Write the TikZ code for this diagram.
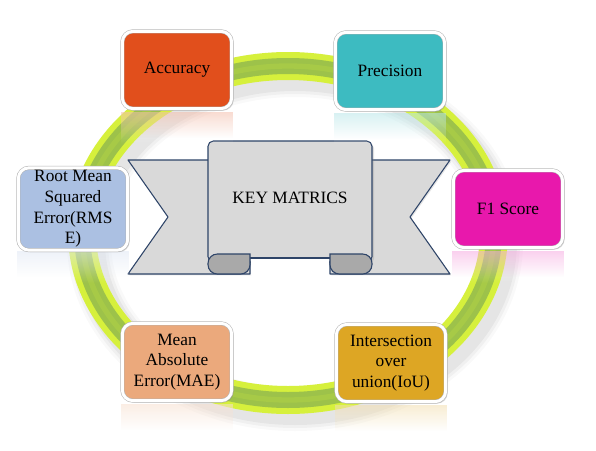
\documentclass[tikz,border=0pt]{standalone}
\usepackage{fontspec}
\setmainfont{Liberation Serif}
\usepackage{tikz}
\usetikzlibrary{shadows,fadings,calc}
\definecolor{ringyellow}{HTML}{D6F03C}
\definecolor{ringgreen}{HTML}{9DC24A}
\definecolor{banneredge}{HTML}{2E4468}
\definecolor{bannerfill}{HTML}{D9D9D9}
\definecolor{curlfill}{HTML}{A9A9A9}
\definecolor{accuracycol}{HTML}{E14F1C}
\definecolor{precisioncol}{HTML}{3DBBC1}
\definecolor{fonecol}{HTML}{E818AC}
\definecolor{rmsecol}{HTML}{ABC0E2}
\definecolor{maecol}{HTML}{EBA97C}
\definecolor{ioucol}{HTML}{DDA624}
\begin{document}
\begin{tikzpicture}[x=0.75pt,y=-0.75pt,
  box/.style={rectangle,rounded corners=8pt,minimum width=82pt,minimum height=58pt,
    inner sep=2pt,fill=#1,draw=black!30,line width=0.4pt,double=white,double distance=2.2pt,
    align=center,font=\rmfamily\fontsize{13}{15.5}\selectfont,
    drop shadow={opacity=0.3,shadow xshift=1.5pt,shadow yshift=-1.5pt}},
  ribbon/.style={fill=bannerfill,draw=banneredge,line width=0.8pt,line join=round},
  curl/.style={fill=curlfill,draw=banneredge,line width=0.8pt}]
\fill[white] (0,0) rectangle (596,450);
\useasboundingbox (0,0) rectangle (596,450);

\foreach \w/\o in {44/0.025,38/0.035,32/0.045}
  \draw[black,opacity=\o,line width=\w*0.75pt] (295,242) ellipse [x radius=206,y radius=167];
\draw[ringyellow,line width=21pt] (288,233) ellipse [x radius=206,y radius=167];
\draw[ringgreen,line width=12pt] (288,233) ellipse [x radius=206,y radius=167];
\draw[ringgreen!70!ringyellow,opacity=0.6,line width=4pt] (288,233) ellipse [x radius=206,y radius=167];

\filldraw[ribbon,drop shadow={opacity=0.2,shadow xshift=1pt,shadow yshift=-1pt}]
  (128,160) -- (250,160) -- (250,274) -- (128,274) -- (168,217) -- cycle;
\filldraw[ribbon,drop shadow={opacity=0.2,shadow xshift=1pt,shadow yshift=-1pt}]
  (450,160) -- (330,160) -- (330,274) -- (450,274) -- (410,217) -- cycle;
\filldraw[ribbon,rounded corners=4pt,drop shadow={opacity=0.25,shadow xshift=1.5pt,shadow yshift=-1.5pt}]
  (208,262) -- (208,141) -- (372,141) -- (372,262) -- cycle;
\draw[banneredge,line width=0.8pt] (250,258) -- (330,258);
\fill[white] (251,259) rectangle (329,275);
\filldraw[curl] (250,254) [rounded corners=7pt] -- (208,254) -- (208,274) -- (250,274) [sharp corners] -- cycle;
\filldraw[curl] (330,254) [rounded corners=7pt] -- (372,254) -- (372,274) -- (330,274) [sharp corners] -- cycle;
\node[font=\rmfamily\fontsize{13}{15.5}\selectfont] (title) at (290,198) {KEY MATRICS};

\foreach \n/\c/\x/\y/\t in {acc/accuracycol/177/68/Accuracy,
    prec/precisioncol/390/69/Precision,
    fone/fonecol/508/207/F1 Score,
    rmse/rmsecol/73/207/{Root Mean\\Squared\\Error(RMS\\E)},
    mae/maecol/177/360/{Mean\\Absolute\\Error(MAE)},
    iou/ioucol/391/361/{Intersection\\over\\union(IoU)}}{
  \fill[white,opacity=0.45,path fading=south] (\x-56,\y+44) rectangle (\x+56,\y+76);
  \fill[\c,opacity=0.2,path fading=south] (\x-56,\y+44) rectangle (\x+56,\y+70);
  \node[box=\c] (\n) at (\x,\y+2) {\t};
}
\end{tikzpicture}
\end{document}
